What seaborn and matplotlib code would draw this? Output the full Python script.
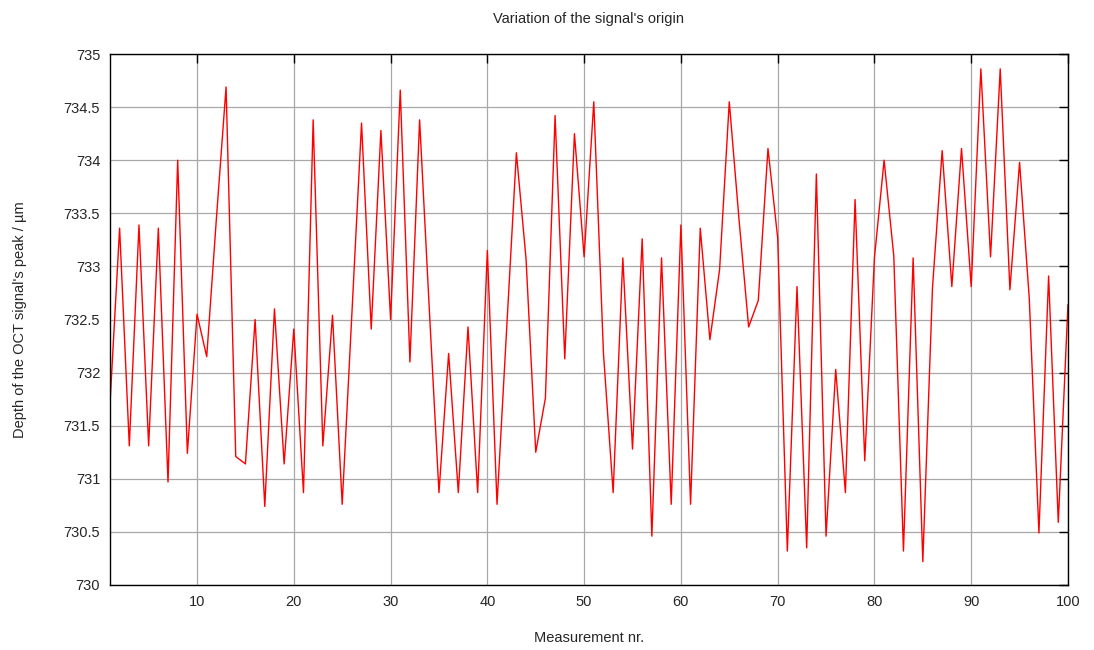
import numpy as np
import pandas as pd
import matplotlib
matplotlib.use("Agg")
import matplotlib.pyplot as plt
import seaborn as sns

measurement = list(range(1, 101))
depth = [
    731.70, 733.36, 731.31, 733.39, 731.31, 733.36, 730.97, 734.00, 731.24, 732.55,
    732.15, 733.45, 734.69, 731.21, 731.14, 732.50, 730.74, 732.60, 731.14, 732.41,
    730.87, 734.38, 731.31, 732.54, 730.76, 732.55, 734.35, 732.41, 734.28, 732.50,
    734.66, 732.10, 734.38, 732.60, 730.87, 732.18, 730.87, 732.43, 730.87, 733.15,
    730.76, 732.42, 734.07, 733.07, 731.25, 731.76, 734.42, 732.13, 734.25, 733.09,
    734.55, 732.18, 730.87, 733.08, 731.28, 733.26, 730.46, 733.08, 730.76, 733.39,
    730.76, 733.36, 732.31, 732.97, 734.55, 733.45, 732.43, 732.68, 734.11, 733.27,
    730.32, 732.81, 730.35, 733.87, 730.46, 732.03, 730.87, 733.63, 731.17, 733.08,
    734.00, 733.10, 730.32, 733.08, 730.22, 732.80, 734.09, 732.81, 734.11, 732.81,
    734.86, 733.09, 734.86, 732.78, 733.98, 732.70, 730.49, 732.91, 730.59, 732.64,
]
x_ticks = [10, 20, 30, 40, 50, 60, 70, 80, 90, 100]
y_ticks = [730, 730.5, 731, 731.5, 732, 732.5, 733, 733.5, 734, 734.5, 735]
y_tick_labels = ["730", "730.5", "731", "731.5", "732", "732.5", "733", "733.5", "734", "734.5", "735"]

sns.set_style("white")
plt.rcParams['font.family'] = ['Liberation Sans', 'DejaVu Sans']

df = pd.DataFrame({"Measurement": measurement, "Depth": depth})

fig = plt.figure(figsize=(10.94, 6.5), dpi=100)
ax = fig.add_axes([0.1005, 0.1, 0.8757, 0.8169])

sns.lineplot(data=df, x="Measurement", y="Depth", ax=ax, color="#ff0000", linewidth=1.0)

ax.set_xlim(1, 100)
ax.set_ylim(730, 735)
ax.set_xticks(x_ticks)
ax.set_yticks(y_ticks)
ax.set_yticklabels(y_tick_labels)
ax.grid(True, color="#a8a8a8", linewidth=0.9)
ax.set_axisbelow(True)
for s in ax.spines.values():
    s.set_visible(True)
    s.set_color("black")
    s.set_linewidth(1.0)
ax.tick_params(axis="both", direction="in", length=6.5, width=1.0, labelsize=10.5,
               top=True, right=True, color="black", pad=7)
ax.set_xlabel("Measurement nr.", fontsize=10.5, labelpad=16)
ax.set_ylabel("Depth of the OCT signal's peak / µm", fontsize=10.5, labelpad=26)
ax.set_title("Variation of the signal's origin", fontsize=10.5, pad=22)

fig.savefig("out.png", dpi=100)
